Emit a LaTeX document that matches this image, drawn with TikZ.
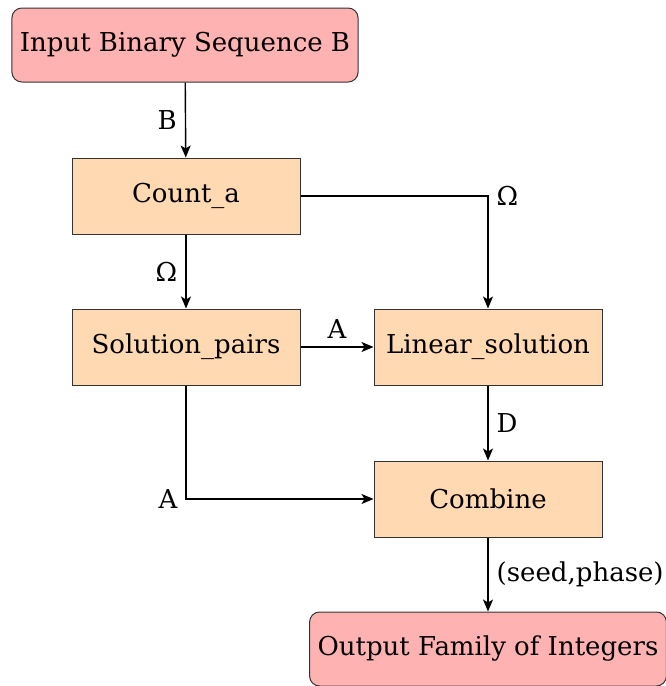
\documentclass[tikz,border=0pt]{standalone}
\usepackage{fontspec}
\setmainfont{DejaVu Serif}
\usetikzlibrary{arrows.meta}
\begin{document}
\begin{tikzpicture}[x=0.5pt,y=-0.5pt,
  font=\fontsize{13}{15.5}\selectfont,
  proc/.style={draw=black!80, line width=0.5pt, fill=orange!30, minimum width=114pt, minimum height=38pt, inner sep=2pt},
  term/.style={draw=black!80, line width=0.5pt, fill=red!30, rounded corners=5pt, minimum height=37pt, inner sep=4pt},
  conn/.style={line width=0.7pt, -{Stealth[length=6pt,width=5pt,inset=1.5pt]}},
  lbl/.style={inner sep=4pt}]
\useasboundingbox (0,0) rectangle (665,686);
\node[term, minimum width=173pt] (in) at (185,45) {Input Binary Sequence B};
\node[proc] (cnt) at (186,196) {Count\_a};
\node[proc] (sol) at (186,347) {Solution\_pairs};
\node[proc] (lin) at (488,347) {Linear\_solution};
\node[proc] (com) at (488,499) {Combine};
\node[term, minimum width=178pt] (out) at (488,649) {Output Family of Integers};
\coordinate (c1) at (lin.north |- cnt.east);
\coordinate (c2) at (sol.south |- com.west);
\draw[conn] (in) -- node[lbl, left] {B} (cnt);
\draw[conn] (cnt) -- node[lbl, left] {Ω} (sol);
\draw[conn] (cnt.east) -- (c1) node[lbl, right] {Ω} -- (lin.north);
\draw[conn] (sol) -- node[lbl, above] {A} (lin);
\draw[conn] (lin) -- node[lbl, right] {D} (com);
\draw[conn] (sol.south) -- (c2) node[lbl, left] {A} -- (com.west);
\draw[conn] (com) -- node[lbl, right] {(seed,phase)} (out);
\end{tikzpicture}
\end{document}
